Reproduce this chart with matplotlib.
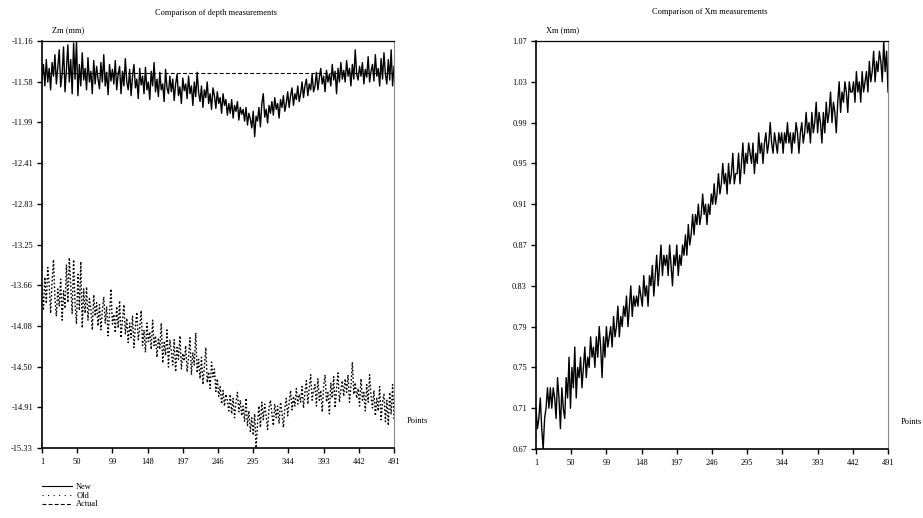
import numpy as np
import matplotlib
matplotlib.use("Agg")
import matplotlib.pyplot as plt
from matplotlib.lines import Line2D

plt.rcParams['font.family'] = ['Liberation Serif', 'DejaVu Serif']
plt.rcParams['axes.unicode_minus'] = False

# measurement index (every second point of 1..491)
points = np.arange(1, 492, 2)
x_ticks = [1, 50, 99, 148, 197, 246, 295, 344, 393, 442, 491]

zm_ticks = ['-11.16', '-11.58', '-11.99', '-12.41', '-12.83', '-13.25',
            '-13.66', '-14.08', '-14.50', '-14.91', '-15.33']
xm_ticks = ['0.67', '0.71', '0.75', '0.79', '0.83', '0.87',
            '0.91', '0.95', '0.99', '1.03', '1.07']

zm_actual = -11.49

zm_new = [
    -11.55, -11.40, -11.62, -11.35, -11.58, -11.44, -11.66, -11.38, -11.52, -11.30,
    -11.60, -11.42, -11.25, -11.63, -11.50, -11.22, -11.68, -11.45, -11.20, -11.58,
    -11.35, -11.70, -11.18, -11.55, -11.16, -11.72, -11.40, -11.62, -11.28, -11.56,
    -11.44, -11.66, -11.33, -11.58, -11.47, -11.70, -11.36, -11.60, -11.42, -11.55,
    -11.65, -11.38, -11.58, -11.30, -11.62, -11.48, -11.71, -11.40, -11.57, -11.45,
    -11.60, -11.36, -11.66, -11.50, -11.42, -11.70, -11.47, -11.62, -11.34, -11.58,
    -11.66, -11.45, -11.72, -11.52, -11.40, -11.64, -11.55, -11.75, -11.44, -11.61,
    -11.52, -11.70, -11.43, -11.66, -11.58, -11.76, -11.47, -11.62, -11.38, -11.68,
    -11.55, -11.73, -11.48, -11.66, -11.60, -11.78, -11.45, -11.64, -11.70, -11.52,
    -11.68, -11.55, -11.77, -11.60, -11.50, -11.72, -11.63, -11.80, -11.54, -11.67,
    -11.60, -11.75, -11.52, -11.70, -11.62, -11.82, -11.58, -11.73, -11.48, -11.69,
    -11.78, -11.62, -11.84, -11.66, -11.74, -11.58, -11.80, -11.70, -11.86, -11.64,
    -11.72, -11.85, -11.68, -11.80, -11.74, -11.90, -11.70, -11.82, -11.76, -11.92,
    -11.80, -11.90, -11.76, -11.95, -11.82, -11.88, -11.78, -11.97, -11.84, -11.91,
    -11.86, -11.98, -11.84, -12.02, -11.90, -11.96, -12.05, -11.88, -12.14, -11.93,
    -11.98, -11.84, -12.04, -11.80, -11.70, -11.94, -11.86, -12.00, -11.82, -11.90,
    -11.78, -11.92, -11.74, -11.86, -11.80, -11.95, -11.76, -11.84, -11.72, -11.88,
    -11.80, -11.68, -11.84, -11.72, -11.64, -11.82, -11.70, -11.76, -11.62, -11.78,
    -11.70, -11.58, -11.74, -11.62, -11.55, -11.72, -11.60, -11.66, -11.50, -11.68,
    -11.62, -11.48, -11.66, -11.54, -11.44, -11.60, -11.52, -11.68, -11.46, -11.58,
    -11.50, -11.62, -11.40, -11.56, -11.47, -11.70, -11.44, -11.58, -11.38, -11.55,
    -11.46, -11.58, -11.36, -11.52, -11.44, -11.62, -11.40, -11.55, -11.25, -11.50,
    -11.56, -11.42, -11.52, -11.38, -11.60, -11.45, -11.53, -11.32, -11.58, -11.47,
    -11.40, -11.57, -11.30, -11.52, -11.44, -11.62, -11.34, -11.55, -11.28, -11.50,
    -11.60, -11.35, -11.56, -11.25, -11.62, -11.42,
]

zm_old = [
    -13.70, -13.92, -13.58, -13.85, -13.48, -13.66, -13.95, -13.62, -13.40, -13.80,
    -13.98, -13.70, -13.88, -13.60, -14.02, -13.72, -13.90, -13.45, -13.84, -13.38,
    -13.66, -13.95, -13.40, -13.85, -14.06, -13.55, -13.92, -13.42, -14.10, -13.70,
    -13.95, -13.68, -14.02, -13.80, -13.90, -14.12, -13.76, -13.98, -13.84, -14.08,
    -13.86, -14.12, -13.92, -13.78, -14.05, -13.88, -14.18, -13.95, -13.70, -14.06,
    -13.96, -14.15, -13.88, -14.10, -13.82, -14.20, -14.02, -13.86, -14.16, -14.00,
    -14.25, -14.05, -14.20, -13.98, -14.30, -14.08, -13.94, -14.22, -14.10, -13.92,
    -14.28, -14.12, -14.35, -14.05, -14.24, -14.14, -14.32, -14.02, -14.28, -14.18,
    -14.40, -14.20, -14.32, -14.05, -14.46, -14.25, -14.38, -14.12, -14.50, -14.22,
    -14.34, -14.48, -14.22, -14.55, -14.30, -14.42, -14.18, -14.52, -14.36, -14.44,
    -14.28, -14.55, -14.40, -14.20, -14.58, -14.35, -14.48, -14.15, -14.56, -14.42,
    -14.62, -14.40, -14.68, -14.50, -14.30, -14.66, -14.55, -14.72, -14.45, -14.60,
    -14.52, -14.75, -14.62, -14.80, -14.70, -14.88, -14.74, -14.90, -14.78, -14.84,
    -14.95, -14.78, -14.98, -14.82, -15.02, -14.86, -14.76, -14.96, -14.84, -15.00,
    -14.90, -15.06, -14.82, -15.10, -14.95, -15.16, -15.02, -15.20, -14.98, -15.33,
    -15.08, -14.90, -15.12, -14.86, -15.04, -14.88, -15.00, -15.14, -14.92, -14.84,
    -14.98, -15.10, -14.88, -15.02, -14.90, -15.08, -14.86, -14.96, -15.12, -14.92,
    -14.82, -15.00, -14.86, -14.74, -14.94, -14.80, -14.90, -14.72, -14.88, -14.78,
    -14.86, -14.70, -14.92, -14.76, -14.64, -14.88, -14.72, -14.58, -14.84, -14.74,
    -14.68, -14.90, -14.62, -14.84, -14.74, -14.96, -14.70, -14.58, -14.86, -14.76,
    -14.98, -14.66, -14.82, -14.60, -14.92, -14.72, -14.56, -14.86, -14.74, -14.64,
    -14.80, -14.62, -14.76, -14.58, -14.86, -14.70, -14.45, -14.78, -14.66, -14.82,
    -14.72, -14.90, -14.62, -14.84, -14.76, -14.95, -14.68, -14.86, -14.58, -14.80,
    -14.92, -14.74, -15.00, -14.82, -14.95, -14.70, -15.04, -14.86, -14.78, -15.06,
    -14.84, -15.10, -14.76, -14.98, -14.68, -15.04,
]

# Xm readings in hundredths of a mm
xm_hund = [
    71, 69, 70, 72, 69, 67, 70, 71, 73, 71,
    73, 71, 73, 72, 70, 74, 72, 69, 73, 71,
    70, 74, 72, 76, 71, 75, 73, 77, 72, 75,
    74, 76, 73, 75, 77, 74, 76, 75, 78, 76,
    77, 75, 78, 76, 79, 77, 74, 78, 76, 79,
    77, 78, 79, 77, 80, 78, 79, 81, 78, 80,
    79, 81, 80, 82, 79, 81, 83, 80, 82, 81,
    82, 81, 83, 82, 81, 84, 82, 83, 81, 84,
    83, 85, 82, 84, 86, 83, 85, 87, 84, 86,
    85, 86, 84, 87, 85, 83, 86, 85, 87, 84,
    86, 85, 87, 86, 88, 86, 89, 87, 88, 90,
    88, 90, 89, 91, 89, 90, 92, 90, 91, 89,
    91, 90, 92, 91, 93, 91, 92, 94, 92, 93,
    95, 93, 94, 92, 95, 93, 94, 96, 93, 94,
    94, 96, 93, 95, 97, 94, 96, 95, 97, 96,
    95, 97, 94, 96, 95, 98, 96, 97, 95, 97,
    98, 96, 97, 99, 97, 96, 98, 97, 96, 98,
    97, 98, 96, 98, 97, 99, 97, 98, 96, 98,
    97, 99, 98, 96, 98, 99, 97, 98, 100, 98,
    99, 97, 100, 98, 99, 101, 98, 100, 99, 97,
    100, 98, 101, 99, 100, 102, 99, 101, 100, 98,
    101, 103, 100, 102, 101, 103, 102, 100, 103, 102,
    102, 103, 101, 104, 102, 103, 101, 104, 102, 103,
    104, 102, 105, 103, 104, 106, 103, 105, 104, 106,
    105, 103, 107, 104, 106, 102,
]
xm = np.array(xm_hund) / 100.0

FS = 6
LW = 1.0


def style_axes(ax, ylim, tick_labels, ylabel, title):
    ax.set_xlim(1, 491)
    ax.set_ylim(*ylim)
    ax.set_xticks(x_ticks)
    ax.set_xticklabels([str(t) for t in x_ticks])
    ax.set_yticks(np.linspace(ylim[0], ylim[1], len(tick_labels)))
    ax.set_yticklabels(tick_labels)
    ax.tick_params(axis='both', direction='out', length=3.5, width=1.0,
                   labelsize=FS, color='black')
    ax.tick_params(axis='y', pad=3)
    ax.tick_params(axis='x', pad=4)
    ax.spines['left'].set_linewidth(1.2)
    ax.spines['bottom'].set_linewidth(1.2)
    ax.spines['top'].set_linewidth(0.9)
    ax.spines['right'].set_linewidth(0.8)
    ax.spines['right'].set_color('#8a8a8a')
    ax.text(0.028, 1.027, ylabel, transform=ax.transAxes, fontsize=FS,
            ha='left', va='center')
    ax.text(1.035, 0.066, 'Points', transform=ax.transAxes, fontsize=FS,
            ha='left', va='center')
    ax.text(0.494, 1.07, title, transform=ax.transAxes, fontsize=FS,
            ha='center', va='center')


fig = plt.figure(figsize=(9.23, 5.18), dpi=100)
ax1 = fig.add_axes([0.0455, 0.1351, 0.3814, 0.7857])
ax2 = fig.add_axes([0.5807, 0.1332, 0.3814, 0.7876])

# depth: new, old and actual values
ax1.plot(points, zm_new, color='black', lw=LW, ls='-')
ax1.plot(points, zm_old, color='black', lw=LW, ls=(0, (1.2, 1.5)))
ax1.plot([points[0], points[-1]], [zm_actual, zm_actual], color='black',
         lw=0.8, ls=(0, (3.5, 2)))
style_axes(ax1, (-15.33, -11.16), zm_ticks[::-1], 'Zm (mm)',
           'Comparison of depth measurements')

# Xm measurements
ax2.plot(points, xm, color='black', lw=LW)
style_axes(ax2, (0.67, 1.07), xm_ticks, 'Xm (mm)',
           'Comparison of Xm measurements')

handles = [
    Line2D([], [], color='black', lw=0.8, ls='-'),
    Line2D([], [], color='black', lw=0.8, ls=(0, (1, 4))),
    Line2D([], [], color='black', lw=0.8, ls=(0, (3.5, 2))),
]
fig.legend(handles, ['New', 'Old', 'Actual'], loc='upper left',
           bbox_to_anchor=(0.0455, 0.068), frameon=False, fontsize=FS,
           handlelength=3.6, handletextpad=0.5, labelspacing=0.1,
           borderpad=0, borderaxespad=0)

fig.savefig('out.png', dpi=100)
